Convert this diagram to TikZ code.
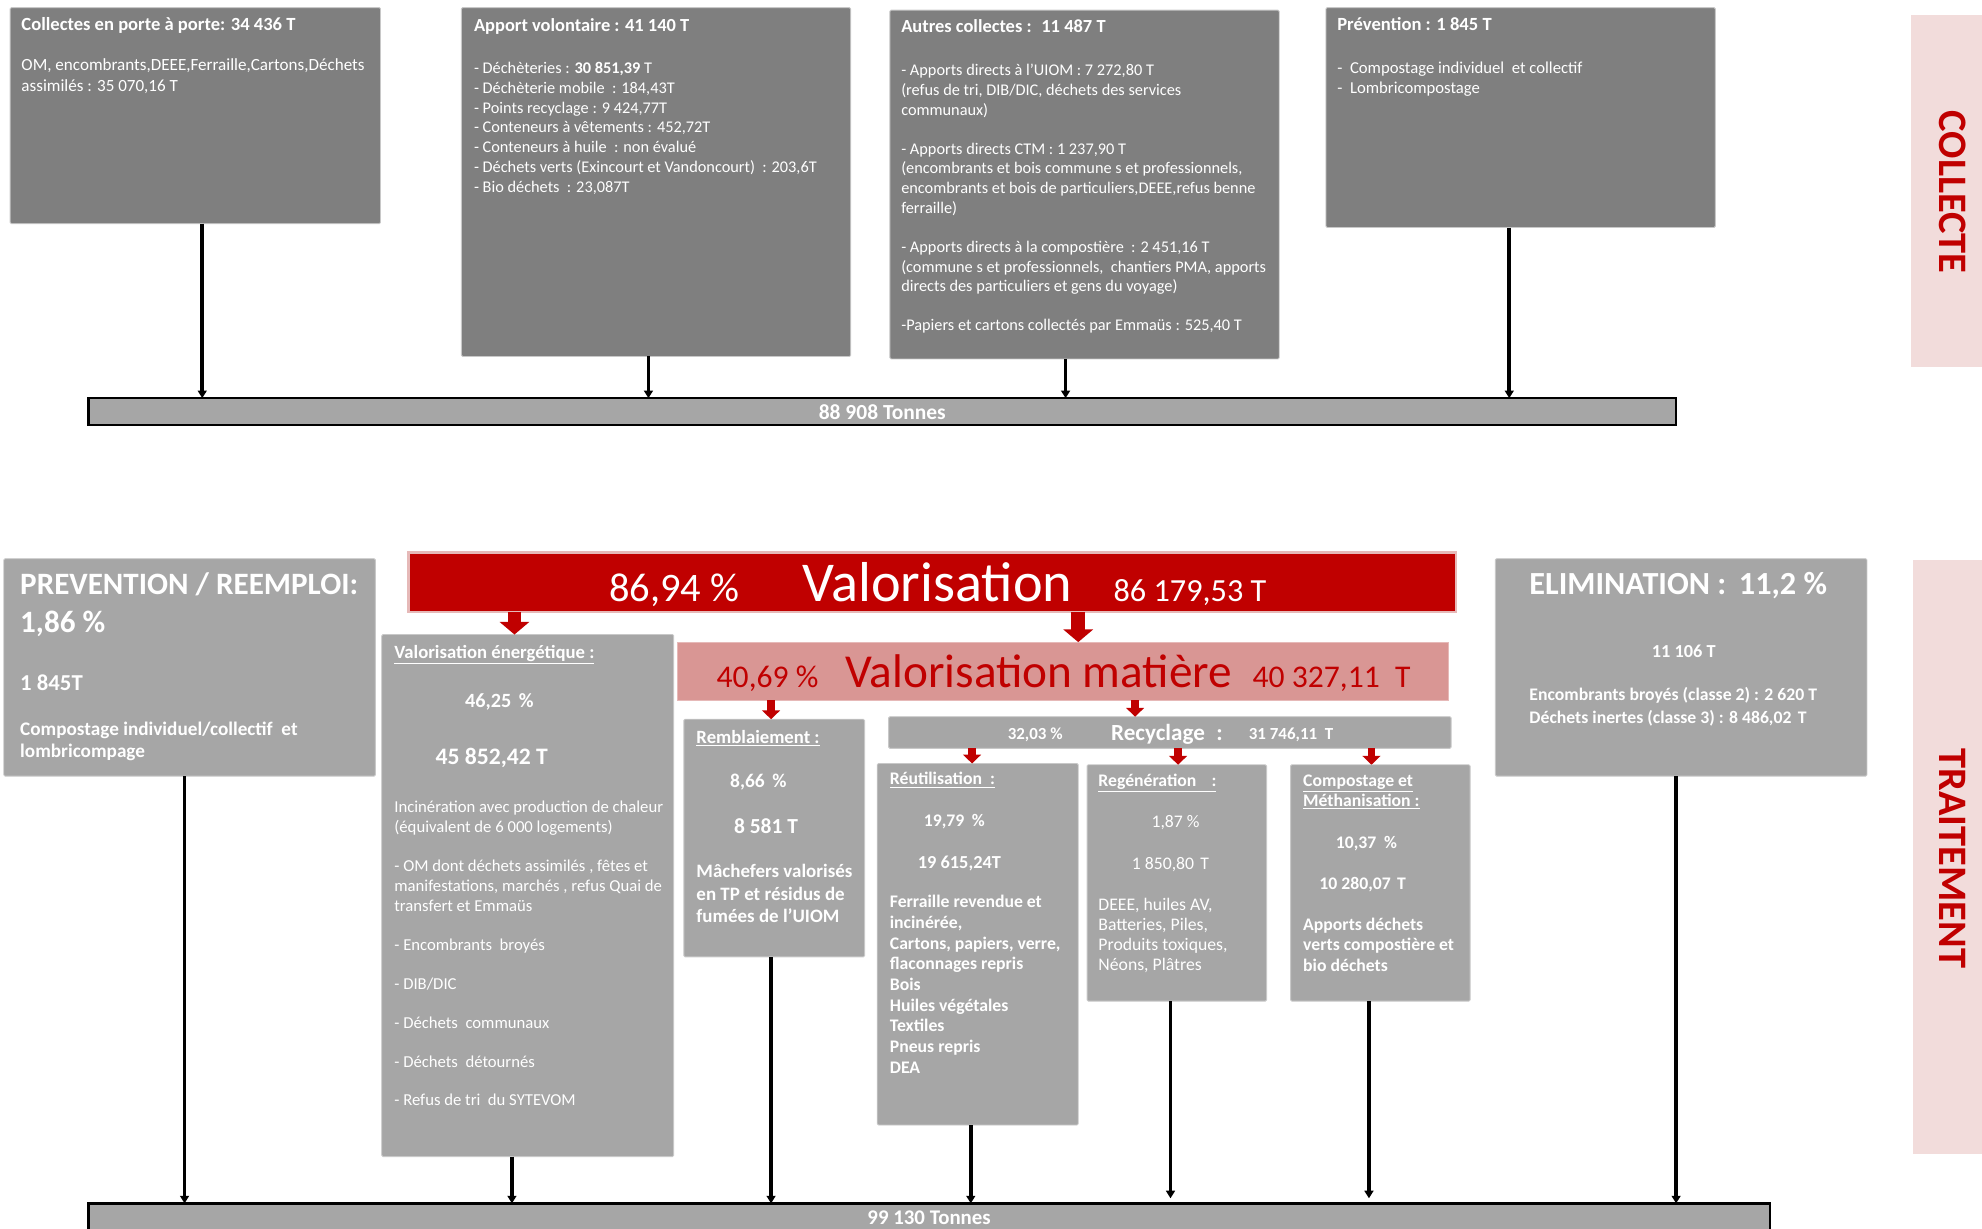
\documentclass[tikz,border=0pt]{standalone}
\usepackage{fontspec}
\setmainfont{Carlito}
\usetikzlibrary{arrows.meta,calc}
\definecolor{dgray}{HTML}{7F7F7F}
\definecolor{lgray}{HTML}{A6A6A6}
\definecolor{vred}{HTML}{C00000}
\definecolor{vpink}{HTML}{D99694}
\definecolor{bandpink}{HTML}{F2DCDB}
\definecolor{redborder}{HTML}{E6B9B8}
\definecolor{edgegray}{HTML}{C8C8C8}
\newcommand\fs[2]{\fontsize{#1}{#2}\selectfont}
\newcommand\ml[1]{\begin{tabular}[t]{@{}l@{}}#1\end{tabular}}
\newcommand\gbox[6]{\node[#2, minimum width={(#5-#3)*1pt}, minimum height={(#6-#4)*1pt}] (#1) at (#3,#4) {};}
\begin{document}
\begin{tikzpicture}[x=1pt,y=-1pt,
  boxbase/.style={anchor=north west, inner sep=0pt, outer sep=0pt, rectangle},
  dbox/.style={boxbase, fill=dgray, draw=edgegray, line width=0.7pt, rounded corners=1pt},
  lbox/.style={boxbase, fill=lgray, draw=edgegray, line width=0.7pt, rounded corners=1pt},
  barbox/.style={boxbase, fill=lgray, draw=black, line width=1.8pt},
  redbox/.style={boxbase, fill=vred, draw=redborder, line width=2pt},
  pinkbox/.style={boxbase, fill=vpink, draw=redborder, line width=0.7pt},
  bandbox/.style={boxbase, fill=bandpink},
  tx/.style={text=white, inner sep=0pt, outer sep=0pt, anchor=base west},
  txc/.style={text=white, inner sep=0pt, outer sep=0pt, anchor=base},
  blk/.style={black, line width=3pt, -{Triangle[length=6pt,width=7pt]}},
  bigred/.style={vred, line width=11pt, -{Triangle[length=10pt,width=23pt]}},
  smallred/.style={vred, line width=6pt, -{Triangle[length=7pt,width=14pt]}},
  bandtext/.style={text=vred, font=\fs{32}{32}\bfseries, rotate=-90, inner sep=0pt}
]
\useasboundingbox (0,0) rectangle (1568,972);

% ---------------- COLLECTE ----------------
\gbox{b1}{dbox}{8}{6}{301}{177}
\gbox{b2}{dbox}{365}{6}{673}{282}
\gbox{b3}{dbox}{704}{8}{1012}{284}
\gbox{b4}{dbox}{1049}{6}{1357}{180}
\gbox{bar1}{barbox}{70}{315}{1326}{336}
\gbox{cband}{bandbox}{1512}{12}{1568}{290}
\node[bandtext] (ctext) at (1545,152) {COLLECTE};

\node[tx, font=\fs{14.7}{18}\bfseries] (t1a) at (17,24) {Collectes en porte à porte: 34 436 T};
\node[tx, font=\fs{13.5}{16.5}] (t1b) at (17,56) {\ml{OM, encombrants,DEEE,Ferraille,Cartons,Déchets\\assimilés : 35 070,16 T}};

\node[tx, font=\fs{14.6}{18}\bfseries] (t2a) at (375,25) {Apport volontaire : 41 140 T};
\node[tx, font=\fs{12.9}{15.7}] (t2b) at (375,58) {\ml{- Déchèteries : \textbf{30 851,39} T\\- Déchèterie mobile \ : 184,43T\\- Points recyclage : 9 424,77T\\- Conteneurs à vêtements : 452,72T\\- Conteneurs à huile \ : non évalué\\- Déchets verts (Exincourt et Vandoncourt) \ : 203,6T\\- Bio déchets \ : 23,087T}};

\node[tx, font=\fs{14.6}{18}\bfseries] (t3a) at (713,26) {Autres collectes : \ 11 487 T};
\node[tx, font=\fs{12.9}{15.6}] (t3b) at (713,60) {\ml{- Apports directs à l'UIOM : 7 272,80 T\\(refus de tri, DIB/DIC, déchets des services\\communaux)\\[15.2pt]- Apports directs CTM : 1 237,90 T\\(encombrants et bois commune s et professionnels,\\encombrants et bois de particuliers,DEEE,refus benne\\ferraille)\\[15.2pt]- Apports directs à la compostière \ : 2 451,16 T\\(commune s et professionnels, \ chantiers PMA, apports\\directs des particuliers et gens du voyage)\\[15.2pt]-Papiers et cartons collectés par Emmaüs : 525,40 T}};

\node[tx, font=\fs{14.7}{18}\bfseries] (t4a) at (1058,24) {Prévention : 1 845 T};
\node[tx, font=\fs{13.2}{16}] (t4b) at (1058,58) {\ml{-\hspace{6pt}Compostage individuel \ et collectif\\-\hspace{6pt}Lombricompostage}};

\node[txc, font=\fs{17}{18}\bfseries] (bar1t) at (698,332) {88 908 Tonnes};

\coordinate (a1) at (160,0);
\coordinate (a2) at (513,0);
\coordinate (a3) at (843,0);
\coordinate (a4) at (1194,0);
\draw[blk] (b1.south -| a1) -- (bar1.north -| a1);
\draw[blk] (b2.south -| a2) -- (bar1.north -| a2);
\draw[blk] (b3.south -| a3) -- (bar1.north -| a3);
\draw[blk] (b4.south -| a4) -- (bar1.north -| a4);

% ---------------- TRAITEMENT ----------------
\gbox{prev}{lbox}{3}{442}{297}{614}
\gbox{val}{redbox}{323}{437}{1152}{484}
\gbox{vale}{lbox}{302}{502}{533}{915}
\gbox{mat}{pinkbox}{536}{508}{1146}{554}
\gbox{remb}{lbox}{541}{569}{684}{757}
\gbox{recy}{lbox}{703}{567}{1148}{592}
\gbox{reut}{lbox}{694}{604}{853}{890}
\gbox{regen}{lbox}{860}{605}{1002}{792}
\gbox{comp}{lbox}{1021}{605}{1163}{792}
\gbox{elim}{lbox}{1183}{442}{1477}{614}
\gbox{tband}{bandbox}{1513}{443}{1568}{913}
\gbox{bar2}{barbox}{70}{952}{1400}{990}
\node[bandtext] (ttext) at (1545,679) {TRAITEMENT};

% prevention
\node[tx, font=\fs{24.6}{30}\bfseries] (pt1) at (16,470) {\ml{PREVENTION / REEMPLOI:\\1,86 \%}};
\node[tx, font=\fs{18}{20}\bfseries] (pt2) at (16,546) {1 845T};
\node[tx, font=\fs{15.2}{17}\bfseries] (pt3) at (16,582) {\ml{Compostage individuel/collectif \ et\\lombricompage}};

% valorisation
\node[tx, font=\fs{32}{34}] (vt1) at (482,476) {86,94 \%};
\node[tx, font=\fs{44.5}{46}] (vt2) at (635,476) {Valorisation};
\node[tx, font=\fs{25.5}{27}] (vt3) at (881,476) {86 179,53 T};

% valorisation matière
\node[tx, text=vred, font=\fs{25}{27}] (mt1) at (567,544) {40,69 \%};
\node[tx, text=vred, font=\fs{37.4}{39}] (mt2) at (669,544) {Valorisation matière};
\node[tx, text=vred, font=\fs{25}{27}] (mt3) at (991,544) {40 327,11\hspace{12pt}T};

% valorisation énergétique
\node[tx, font=\fs{14.8}{17}\bfseries] (et1) at (312,521) {\underline{Valorisation énergétique :}};
\node[txc, font=\fs{16}{18}\bfseries] (et2) at (395,560) {46,25\hspace{6pt}\%};
\node[txc, font=\fs{18.7}{20}\bfseries] (et3) at (389,605) {45 852,42 T};
\node[tx, font=\fs{13.2}{15.9}] (et4) at (312,643) {\ml{Incinération avec production de chaleur\\(équivalent de 6 000 logements)\\[14.8pt]- OM dont déchets assimilés , fêtes et\\manifestations, marchés , refus Quai de\\transfert et Emmaüs\\[14.8pt]- Encombrants \ broyés\\[14.8pt]- DIB/DIC\\[14.8pt]- Déchets \ communaux\\[14.8pt]- Déchets \ détournés\\[14.8pt]- Refus de tri \ du SYTEVOM}};

% remblaiement
\node[tx, font=\fs{14.8}{17}\bfseries] (rt1) at (551,588) {\underline{Remblaiement :}};
\node[txc, font=\fs{15.4}{17}\bfseries] (rt2) at (600,623) {8,66\hspace{6pt}\%};
\node[txc, font=\fs{17}{19}\bfseries] (rt3) at (606,659) {8 581 T};
\node[tx, font=\fs{15}{18}\bfseries] (rt4) at (551,694) {\ml{Mâchefers valorisés\\en TP et résidus de\\fumées de l'UIOM}};

% recyclage
\node[txc, font=\fs{13.4}{15}\bfseries] (ct1) at (819,585) {32,03 \%};
\node[tx, font=\fs{18.3}{20}\bfseries] (ct2) at (879,586) {Recyclage\hspace{9pt}:};
\node[tx, font=\fs{13.4}{15}\bfseries] (ct3) at (988,585) {31 746,11\hspace{6pt}T};

% réutilisation
\node[tx, font=\fs{14}{17}\bfseries] (ut1) at (704,621) {\underline{Réutilisation \ :}};
\node[txc, font=\fs{14}{17}\bfseries] (ut2) at (755,654) {19,79\hspace{6pt}\%};
\node[txc, font=\fs{14.5}{17}\bfseries] (ut3) at (759,687) {19 615,24T};
\node[tx, font=\fs{14}{16.4}\bfseries] (ut4) at (704,718) {\ml{Ferraille revendue et\\incinérée,\\Cartons, papiers, verre,\\flaconnages repris\\Bois\\Huiles végétales\\Textiles\\Pneus repris\\DEA}};

% regénération
\node[tx, font=\fs{14}{17}\bfseries] (gt1) at (869,622) {\underline{Regénération\hspace{12pt}:}};
\node[txc, font=\fs{14}{16}] (gt2) at (930,655) {1,87 \%};
\node[txc, font=\fs{14}{16}] (gt3) at (926,688) {1 850,80\hspace{5pt}T};
\node[tx, font=\fs{14}{16}] (gt4) at (869,720) {\ml{DEEE, huiles AV,\\Batteries, Piles,\\Produits toxiques,\\Néons, Plâtres}};

% compostage
\node[tx, font=\fs{14}{16.2}\bfseries] (mt4) at (1031,622) {\ml{\underline{Compostage et}\\\underline{Méthanisation :}}};
\node[txc, font=\fs{14}{16}\bfseries] (mt5) at (1081,671) {10,37\hspace{6pt}\%};
\node[txc, font=\fs{14}{16}\bfseries] (mt6) at (1078,704) {10 280,07\hspace{5pt}T};
\node[tx, font=\fs{14}{16.2}\bfseries] (mt7) at (1031,736) {\ml{Apports déchets\\verts compostière et\\bio déchets}};

% élimination
\node[tx, font=\fs{25.5}{28}\bfseries] (lt1) at (1210,470) {ELIMINATION :\hspace{10pt}11,2 \%};
\node[txc, font=\fs{14.5}{17}\bfseries] (lt2) at (1332,520) {11 106 T};
\node[tx, font=\fs{14}{18}\bfseries] (lt3) at (1210,554) {\ml{Encombrants broyés (classe 2) : 2 620 T\\Déchets inertes (classe 3) : 8 486,02\hspace{5pt}T}};

\node[txc, font=\fs{16.5}{18}\bfseries] (bar2t) at (735,969) {99 130 Tonnes};

% red arrows
\coordinate (r1) at (407,0);
\coordinate (r2) at (853,0);
\coordinate (r3) at (610,0);
\coordinate (r4) at (898,0);
\coordinate (r5) at (769,0);
\coordinate (r6) at (932,0);
\coordinate (r7) at (1085,0);
\draw[bigred] (val.south -| r1) -- (vale.north -| r1);
\draw[bigred] (val.south -| r2) -- (mat.north -| r2);
\draw[smallred] (mat.south -| r3) -- (remb.north -| r3);
\draw[smallred] (mat.south -| r4) -- (recy.north -| r4);
\draw[smallred] (recy.south -| r5) -- (reut.north -| r5);
\draw[smallred] (recy.south -| r6) -- (regen.north -| r6);
\draw[smallred] (recy.south -| r7) -- (comp.north -| r7);

% black arrows to bottom bar
\coordinate (k1) at (146,0);
\coordinate (k2) at (405,0);
\coordinate (k3) at (610,0);
\coordinate (k4) at (768,0);
\coordinate (k5) at (926,0);
\coordinate (k6) at (1083,0);
\coordinate (k7) at (1326,0);
\draw[blk] (prev.south -| k1) -- (bar2.north -| k1);
\draw[blk] (vale.south -| k2) -- (bar2.north -| k2);
\draw[blk] (remb.south -| k3) -- (bar2.north -| k3);
\draw[blk] (reut.south -| k4) -- (bar2.north -| k4);
\draw[blk] (regen.south -| k5) -- ($(bar2.north -| k5)+(0,-4)$);
\draw[blk] (comp.south -| k6) -- ($(bar2.north -| k6)+(0,-4)$);
\draw[blk] (elim.south -| k7) -- (bar2.north -| k7);
\end{tikzpicture}
\end{document}
